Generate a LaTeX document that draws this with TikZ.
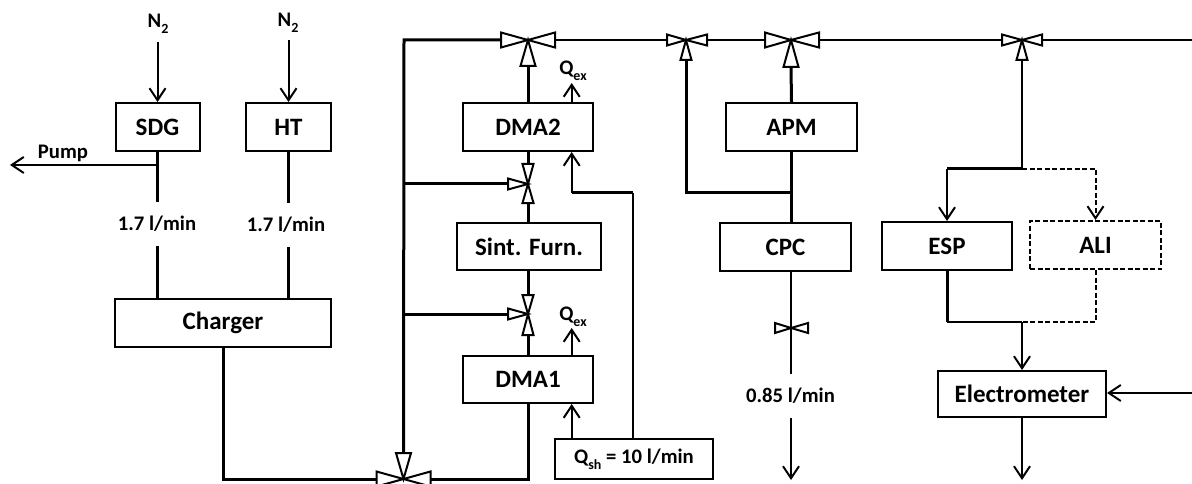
\documentclass[tikz,border=0pt]{standalone}
\usepackage{fontspec}
\setmainfont{Carlito}
\usetikzlibrary{arrows.meta}
\def\smalltext#1{\raisebox{-0.3em}{\fontsize{14}{14}\selectfont #1}}
\tikzset{pics/arm/.style 2 args={code={
	\draw[line width=2pt,fill=white,line join=miter] (0,0) -- (#1,-#2) -- (#1,#2) -- cycle;
	\coordinate (-end) at (#1,0);
}}}
\begin{document}
\begin{tikzpicture}[x=1pt,y=-1pt,line width=2pt]
	\tikzstyle{box}=[draw,line width=2pt,inner sep=0pt,font=\fontsize{25}{25}\selectfont\bfseries]
	\tikzstyle{dashbox}=[box,dash pattern=on 5pt off 2.5pt]
	\tikzstyle{flow}=[inner sep=0pt,minimum height=42pt,font=\fontsize{20.7}{24}\selectfont\bfseries]
	\tikzstyle{tata}=[inner sep=0pt,font=\fontsize{20.7}{24}\selectfont\bfseries]
	\tikzstyle{pipe}=[line width=3pt]
	\tikzstyle{flowarrow}=[-{Straight Barb[length=12pt,width=16pt,line width=2pt]}]
	\tikzstyle{dashpipe}=[dash pattern=on 5pt off 2.5pt]
	\clip (0,0) rectangle (1192,484);

	% Instruments
	\node[box,minimum width=84,minimum height=48] (SDG) at (157.5,127) {SDG};
	\node[box,minimum width=85,minimum height=48] (HT) at (288.5,127) {HT};
	\node[box,minimum width=216,minimum height=48] (Charger) at (223,323) {Charger};
	\node[box,minimum width=130,minimum height=48] (DMA2) at (528,127) {DMA2};
	\node[box,minimum width=144,minimum height=47] (Furn) at (529,246.5) {Sint. Furn.};
	\node[box,minimum width=130,minimum height=47] (DMA1) at (528,379.5) {DMA1};
	\node[box,minimum width=158,minimum height=40,font=\fontsize{20.7}{24}\selectfont\bfseries] (Qsh) at (634,459) {Q\smalltext{sh} = 10 l/min};
	\node[box,minimum width=131,minimum height=48] (APM) at (791.5,127) {APM};
	\node[box,minimum width=131,minimum height=48] (CPC) at (785.5,247) {CPC};
	\node[box,minimum width=130,minimum height=48] (ESP) at (947,246) {ESP};
	\node[dashbox,minimum width=131,minimum height=48] (ALI) at (1095.5,245) {ALI};
	\node[box,minimum width=168,minimum height=46] (Elec) at (1022,394) {Electrometer};

	% Labels
	\node[tata] (N1) at (158,24) {N\smalltext{2}};
	\node[tata] (N2) at (288,23) {N\smalltext{2}};
	\node[tata] (PumpText) at (63,153) {Pump};
	\node[flow] (F1) at (157,224) {1.7 l/min};
	\node[flow] (F2) at (286,225) {1.7 l/min};
	\node[flow] (F3) at (790.5,396) {0.85 l/min};
	\node[tata] (Qex2) at (573,71) {Q\smalltext{ex}};
	\node[tata] (Qex1) at (573,317) {Q\smalltext{ex}};

	% Free ends
	\coordinate (N1s) at (157.5,42);
	\coordinate (N2s) at (288.5,40);
	\coordinate (Pj) at (157.5,165);
	\coordinate (Pe) at (10,165);
	\coordinate (TopEnd) at (1192,40);
	\coordinate (ElecIn) at (1192,393);
	\coordinate (CpcEnd) at (791,480);
	\coordinate (ElecEnd) at (1022,480);
	\coordinate (Rail) at (404,40);
	\coordinate (Sh1) at (633,193);
	\coordinate (Sh2) at (571.7,193);
	\coordinate (Split) at (1022,169);
	\coordinate (Join) at (1022,322);
	\coordinate (Cb) at (223,479);

	% Valves
	\coordinate (V1) at (528,40);
	\pic (V1w) at (V1) {arm={-27}{7.5}};
	\pic (V1e) at (V1) {arm={27}{7.5}};
	\pic[rotate=-90] (V1s) at (V1) {arm={26}{7.5}};
	\coordinate (V2) at (686,40);
	\pic (V2w) at (V2) {arm={-19}{5.5}};
	\pic (V2e) at (V2) {arm={21}{5.5}};
	\pic[rotate=-90] (V2s) at (V2) {arm={20}{5.5}};
	\coordinate (V3) at (791,40);
	\pic (V3w) at (V3) {arm={-26}{7.5}};
	\pic (V3e) at (V3) {arm={28}{7.5}};
	\pic[rotate=-90] (V3s) at (V3) {arm={27}{7.5}};
	\coordinate (V4) at (1022,40);
	\pic (V4w) at (V4) {arm={-20}{5.5}};
	\pic (V4e) at (V4) {arm={20}{5.5}};
	\pic[rotate=-90] (V4s) at (V4) {arm={20}{5.5}};
	\coordinate (V5) at (528,184);
	\pic[rotate=-90] (V5n) at (V5) {arm={-20}{5.5}};
	\pic[rotate=-90] (V5s) at (V5) {arm={19}{5.5}};
	\pic (V5w) at (V5) {arm={-20}{5.5}};
	\coordinate (V6) at (528,314);
	\pic[rotate=-90] (V6n) at (V6) {arm={-19}{5.5}};
	\pic[rotate=-90] (V6s) at (V6) {arm={21}{5.5}};
	\pic (V6w) at (V6) {arm={-20}{5.5}};
	\coordinate (V7) at (403.5,479);
	\pic (V7w) at (V7) {arm={-27}{7.5}};
	\pic (V7e) at (V7) {arm={27}{7.5}};
	\pic[rotate=90] (V7n) at (V7) {arm={26}{7.5}};
	\coordinate (V8) at (791,328);
	\pic (V8w) at (V8) {arm={-16}{5}};
	\pic (V8e) at (V8) {arm={17}{5}};

	% Thick pipes
	\draw[pipe] (SDG.south) -- (SDG.south |- F1.north);
	\draw[pipe] (SDG.south |- F1.south) -- (SDG.south |- Charger.north);
	\draw[pipe] (HT.south) -- (HT.south |- F2.north);
	\draw[pipe] (HT.south |- F2.south) -- (HT.south |- Charger.north);
	\draw[pipe] (Charger.south) -- (Cb) -- (V7w-end);
	\draw[pipe] (V1w-end) -- (Rail) -- (V7n-end);
	\draw[pipe] (Rail |- V5) -- (V5w-end);
	\draw[pipe] (Rail |- V6) -- (V6w-end);
	\draw[pipe] (DMA1.south) -- (DMA1.south |- V7) -- (V7e-end);
	\draw[pipe] (DMA1.north) -- (V6s-end);
	\draw[pipe] (V6n-end) -- (V6n-end |- Furn.south);
	\draw[pipe] (V5s-end) -- (V5s-end |- Furn.north);
	\draw[pipe] (DMA2.south) -- (V5n-end);
	\draw[pipe] (DMA2.north) -- (V1s-end);
	\draw[pipe] (V3s-end) -- (APM.north);
	\draw[pipe] (APM.south) -- (APM.south |- CPC.north);
	\draw[pipe] (V2s-end) -- (V2s-end |- Sh1) -- (APM.south |- Sh1);
	\draw[pipe] (Sh1) -- (Sh2);
	\draw[pipe] (Split) -- (Split -| ESP.north);
	\draw[pipe] (ESP.south) -- (ESP.south |- Join);

	% Thin lines
	\draw[flowarrow] (N1s) -- (SDG.north);
	\draw[flowarrow] (N2s) -- (HT.north);
	\draw[flowarrow] (Pj) -- (Pe);
	\draw (V1e-end) -- (V2w-end);
	\draw (V2e-end) -- (V3w-end);
	\draw (V3e-end) -- (V4w-end);
	\draw (V4e-end) -- (TopEnd);
	\draw[flowarrow] (Qsh.north -| Sh2) -- (DMA1.south -| Sh2);
	\draw[flowarrow] (DMA1.north -| Sh2) -- (Sh2 |- 0,328);
	\draw[flowarrow] (DMA2.north -| Sh2) -- (Sh2 |- 0,83);
	\draw (Qsh.north -| Sh1) -- (Sh1);
	\draw[flowarrow] (Sh2) -- (DMA2.south -| Sh2);
	\draw (CPC.south -| V8) -- (V8 |- F3.north);
	\draw[flowarrow] (V8 |- F3.south) -- (CpcEnd);
	\draw (V4s-end) -- (Split);
	\draw[flowarrow] (Split -| ESP.north) -- (ESP.north);
	\draw[flowarrow,dashpipe] (Split) -- (Split -| ALI.north) -- (ALI.north);
	\draw (ESP.south |- Join) -- (Join);
	\draw[dashpipe] (ALI.south) -- (ALI.south |- Join) -- (Join);
	\draw[flowarrow] (Join) -- (Elec.north);
	\draw[flowarrow] (ElecIn) -- (ElecIn -| Elec.east);
	\draw[flowarrow] (Elec.south) -- (ElecEnd);
\end{tikzpicture}
\end{document}
